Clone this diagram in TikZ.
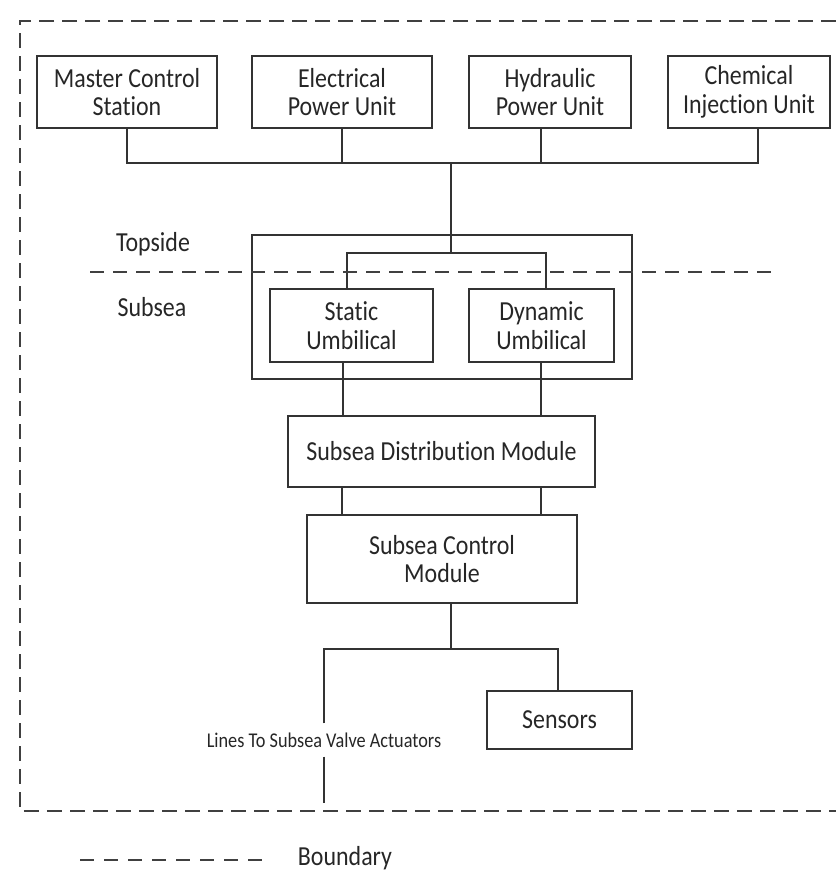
\documentclass[tikz,border=0pt]{standalone}
\usepackage{fontspec}
\setmainfont{Carlito}[Ligatures=NoCommon, FakeStretch=0.87]
\usepackage{tikz}
\usetikzlibrary{positioning, calc}

\begin{document}
\begin{tikzpicture}[x=1pt, y=-1pt,
    unit/.style={draw=black!80, line width=1.8pt, align=center, inner sep=0pt,
        text=black!85, font=\fontsize{27.5}{28.7}\selectfont},
    link/.style={draw=black!80, line width=1.6pt},
    bound/.style={draw=black!75, line width=2.6pt, dash pattern=on 15pt off 8pt},
    label/.style={text=black!85, font=\fontsize{27.5}{28.7}\selectfont}]
    \useasboundingbox (0,0) rectangle (836,871);

    \node[unit, minimum width=180pt, minimum height=72pt] (mcs) at (127,92) {Master Control\\Station};
    \node[unit, minimum width=180pt, minimum height=72pt] (epu) at (342,92) {Electrical\\Power Unit};
    \node[unit, minimum width=162pt, minimum height=72pt] (hpu) at (550,92) {Hydraulic\\Power Unit};
    \node[unit, minimum width=162pt, minimum height=72pt] (ciu) at (749,92) {Chemical\\Injection Unit};

    \node[unit, minimum width=380pt, minimum height=144pt] (umb) at (442,307) {};
    \node[unit, minimum width=163pt, minimum height=73pt] (statU) at (351.5,325.5) {Static\\Umbilical};
    \node[unit, minimum width=145pt, minimum height=73pt] (dynU) at (541.5,325.5) {Dynamic\\Umbilical};

    \node[unit, minimum width=307pt, minimum height=71pt] (sdm) at (441.5,451.5) {Subsea Distribution Module};
    \node[unit, minimum width=270pt, minimum height=88pt] (scm) at (442,559) {Subsea Control\\Module};
    \node[unit, minimum width=145pt, minimum height=58pt] (sens) at (559.5,720) {Sensors};
    \node[text=black!85, font=\fontsize{21}{24}\selectfont, inner xsep=2pt, inner ysep=9pt] (act) at (324,740) {Lines To Subsea Valve Actuators};

    \node[label] (top) at (153,244) {Topside};
    \node[label] (sub) at (152,307) {Subsea};
    \node[label] (bnd) at (345,858) {Boundary};

    \coordinate (busL) at (127,163);
    \coordinate (busR) at (758,163);
    \coordinate (bus) at (451,163);
    \coordinate (hpuDrop) at (541,163);
    \coordinate (split) at (451,253);
    \coordinate (splitL) at (347,253);
    \coordinate (splitR) at (546,253);
    \coordinate (statDrop) at (343,0);
    \coordinate (dynDrop) at (541,0);
    \coordinate (sdmL) at (342,0);
    \coordinate (scmBus) at (451,649);
    \coordinate (actTop) at (324,649);
    \coordinate (sensTop) at (558,649);
    \coordinate (actEnd) at (324,803);

    \draw[link] (mcs.south) |- (busR) -- (busR |- ciu.south);
    \draw[link] (epu.south) -- (epu.south |- busL);
    \draw[link] (hpuDrop |- hpu.south) -- (hpuDrop);
    \draw[link] (bus) -- (split);
    \draw[link] (splitL |- statU.north) -- (splitL) -- (splitR) -- (splitR |- dynU.north);

    \draw[link] (statU.south -| statDrop) -- (sdm.north -| statDrop);
    \draw[link] (dynU.south -| dynDrop) -- (sdm.north -| dynDrop);
    \draw[link] (sdm.south -| sdmL) -- (scm.north -| sdmL);
    \draw[link] (sdm.south -| dynDrop) -- (scm.north -| dynDrop);

    \draw[link] (scm.south -| scmBus) -- (scmBus);
    \draw[link] (act.north) -- (actTop) -- (sensTop) -- (sens.north -| sensTop);
    \draw[link] (act.south) -- (actEnd);

    \draw[bound, line width=2pt, dash pattern=on 14pt off 9pt] (90,272) -- (777,272);
    \draw[bound] (836,21) -- (20,21) -- (20,811) -- (836,811);
    \draw[bound, line width=2.4pt, dash pattern=on 14pt off 10pt] (80,860) -- (263,860);
\end{tikzpicture}
\end{document}
